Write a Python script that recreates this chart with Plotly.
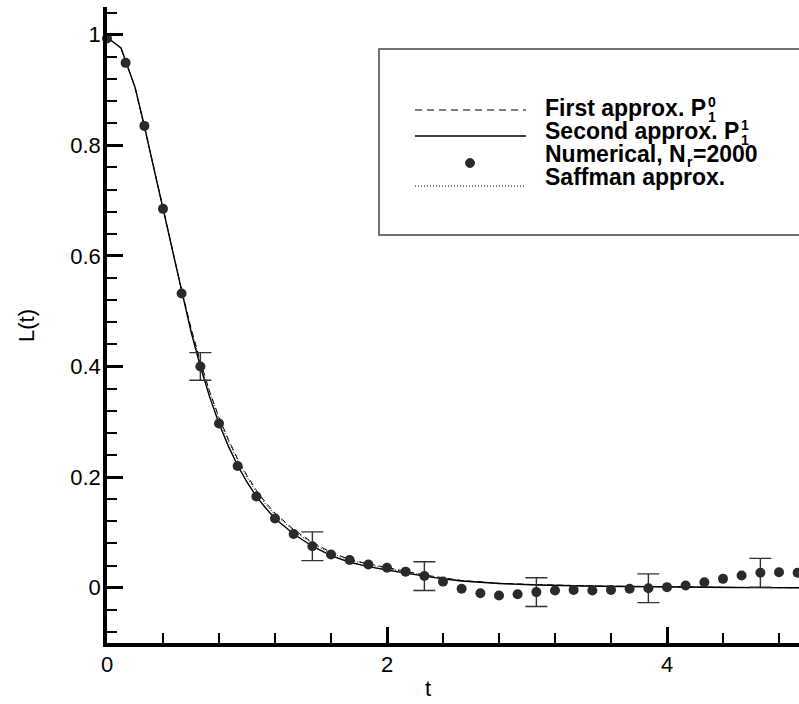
import plotly.graph_objects as go

# ---------------- data ----------------
t_num = [0.000, 0.133, 0.267, 0.400, 0.533, 0.667, 0.800, 0.933, 1.067, 1.200,
         1.333, 1.467, 1.600, 1.733, 1.867, 2.000, 2.133, 2.267, 2.400, 2.533,
         2.667, 2.800, 2.933, 3.067, 3.200, 3.333, 3.467, 3.600, 3.733, 3.867,
         4.000, 4.133, 4.267, 4.400, 4.533, 4.667, 4.800, 4.933]
L_num = [0.993, 0.949, 0.835, 0.685, 0.532, 0.400, 0.297, 0.220, 0.165, 0.125,
         0.097, 0.075, 0.060, 0.050, 0.042, 0.036, 0.029, 0.021, 0.011, -0.002,
         -0.010, -0.014, -0.012, -0.008, -0.005, -0.004, -0.005, -0.004, -0.002, -0.001,
         0.001, 0.004, 0.010, 0.016, 0.022, 0.027, 0.028, 0.027]

t_err = [0.667, 1.467, 2.267, 3.067, 3.867, 4.667]
L_err = [0.400, 0.075, 0.021, -0.008, -0.001, 0.027]
dL_err = [0.025, 0.026, 0.026, 0.026, 0.026, 0.026]

t_curve = [0.0, 0.1, 0.2, 0.267, 0.333, 0.4, 0.467, 0.533, 0.6, 0.667, 0.733, 0.8,
           0.867, 0.933, 1.0, 1.067, 1.133, 1.2, 1.333, 1.467, 1.6, 1.733, 1.867,
           2.0, 2.133, 2.267, 2.4, 2.533, 2.8, 3.067, 3.5, 4.0, 4.5, 5.0]
L_second = [0.995, 0.976, 0.905, 0.835, 0.760, 0.685, 0.607, 0.532, 0.463, 0.400, 0.345, 0.297,
            0.256, 0.221, 0.191, 0.165, 0.144, 0.125, 0.097, 0.075, 0.058, 0.046, 0.038,
            0.032, 0.026, 0.021, 0.016, 0.012, 0.0075, 0.005, 0.0025, 0.001, 0.0003, 0.0]
L_first = [0.995, 0.976, 0.905, 0.835, 0.761, 0.687, 0.611, 0.538, 0.470, 0.409, 0.355, 0.308,
           0.268, 0.233, 0.203, 0.176, 0.154, 0.135, 0.105, 0.082, 0.064, 0.051, 0.043,
           0.036, 0.029, 0.023, 0.018, 0.013, 0.008, 0.0055, 0.003, 0.0012, 0.0004, 0.0]
L_saffman = [0.995, 0.976, 0.905, 0.835, 0.761, 0.686, 0.610, 0.536, 0.468, 0.406, 0.352, 0.305,
             0.265, 0.230, 0.200, 0.173, 0.151, 0.132, 0.103, 0.080, 0.062, 0.050, 0.042,
             0.035, 0.028, 0.022, 0.017, 0.013, 0.008, 0.0053, 0.0028, 0.0011, 0.0003, 0.0]

legend_labels = ["First approx. P", "Second approx. P", "Numerical, N", "Saffman approx."]

# ---------------- figure ----------------
W, H = 799, 704
ML, MR, MT, MB = 107, 0, 7, 61
PW, PH = W - ML - MR, H - MT - MB


def px(x):
    return (x - ML) / PW


def py(y):
    return (H - MB - y) / PH


fig = go.Figure()

fig.add_trace(go.Scatter(x=t_curve, y=L_first, mode="lines",
                         line=dict(color="black", width=1.0, dash="6px,4px"),
                         showlegend=False, cliponaxis=False))
fig.add_trace(go.Scatter(x=t_curve, y=L_saffman, mode="lines",
                         line=dict(color="black", width=1.0, dash="1px,2px"),
                         showlegend=False, cliponaxis=False))
fig.add_trace(go.Scatter(x=t_curve, y=L_second, mode="lines",
                         line=dict(color="black", width=1.4),
                         showlegend=False, cliponaxis=False))
fig.add_trace(go.Scatter(x=t_err, y=L_err, mode="markers",
                         marker=dict(size=10, color="#2a2a2a", opacity=0),
                         error_y=dict(type="data", array=dL_err, visible=True,
                                      color="#333333", thickness=1.4, width=11),
                         showlegend=False, cliponaxis=False))
fig.add_trace(go.Scatter(x=t_num, y=L_num, mode="markers",
                         marker=dict(size=10, color="#2a2a2a"),
                         showlegend=False, cliponaxis=False))

tickfont = dict(family="Liberation Sans, Arial, sans-serif", size=22, color="black")

fig.update_xaxes(range=[0, (W - ML) / 140.0], showgrid=False, zeroline=False,
                 showline=True, linewidth=3.5, linecolor="black", mirror=False,
                 ticks="inside", ticklen=16, tickwidth=3, tickcolor="black",
                 tick0=0, dtick=2, tickfont=tickfont, ticklabelstandoff=-1,
                 minor=dict(ticks="inside", ticklen=10, tickwidth=1.5,
                            tickcolor="black", dtick=0.4, showgrid=False))
fig.update_yaxes(range=[-0.1, 1.05], showgrid=False, zeroline=False,
                 showline=True, linewidth=3.5, linecolor="black", mirror=False,
                 ticks="inside", ticklen=16, tickwidth=3, tickcolor="black",
                 tick0=0, dtick=0.2, tickfont=tickfont, ticklabelstandoff=-2,
                 tickformat="~g",
                 minor=dict(ticks="inside", ticklen=10, tickwidth=1.5,
                            tickcolor="black", dtick=0.04, showgrid=False))

shapes = []
annotations = []

# axis titles
annotations.append(dict(text="L(t)", x=px(27), y=py(326), xref="paper", yref="paper",
                        showarrow=False, textangle=-90, xanchor="center", yanchor="middle",
                        font=dict(family="Liberation Sans, Arial, sans-serif", size=22, color="black")))
annotations.append(dict(text="t", x=px(428), y=py(688), xref="paper", yref="paper",
                        showarrow=False, xanchor="center", yanchor="middle",
                        font=dict(family="Liberation Sans, Arial, sans-serif", size=22, color="black")))

# legend box
shapes.append(dict(type="rect", xref="paper", yref="paper",
                   x0=px(379), x1=px(815), y0=py(235), y1=py(49),
                   line=dict(color="#444444", width=1.5), fillcolor="white", layer="below"))

sym_x0, sym_x1 = px(415), px(526)
shapes.append(dict(type="line", xref="paper", yref="paper", x0=sym_x0, x1=sym_x1,
                   y0=py(110), y1=py(110), line=dict(color="black", width=1.0, dash="7px,5px")))
shapes.append(dict(type="line", xref="paper", yref="paper", x0=sym_x0, x1=sym_x1,
                   y0=py(136), y1=py(136), line=dict(color="black", width=1.4)))
shapes.append(dict(type="circle", xref="paper", yref="paper",
                   x0=px(470 - 4.5), x1=px(470 + 4.5), y0=py(163 + 4.5), y1=py(163 - 4.5),
                   line=dict(color="#2a2a2a", width=1), fillcolor="#2a2a2a"))
shapes.append(dict(type="line", xref="paper", yref="paper", x0=sym_x0, x1=sym_x1,
                   y0=py(186), y1=py(186), line=dict(color="black", width=1.0, dash="1px,2px")))

lfont = dict(family="Liberation Sans, Arial, sans-serif", size=23, color="black")
sfont = dict(family="Liberation Sans, Arial, sans-serif", size=14, color="black")
tx = 545.7
row_y = [108, 131, 154, 177]


def add_text(text, x, y, font):
    annotations.append(dict(text=text, x=px(x), y=py(y), xref="paper", yref="paper",
                            showarrow=False, xanchor="left", yanchor="middle", font=font,
                            borderpad=0))


add_text("<b>" + legend_labels[0] + "</b>", tx - 2, row_y[0], lfont)
add_text("<b>0</b>", 707, row_y[0] - 6, sfont)
add_text("<b>1</b>", 707, row_y[0] + 9, sfont)

add_text("<b>" + legend_labels[1] + "</b>", tx - 2, row_y[1], lfont)
add_text("<b>1</b>", 740, row_y[1] - 6, sfont)
add_text("<b>1</b>", 740, row_y[1] + 9, sfont)

add_text("<b>" + legend_labels[2] + "</b>", tx - 2, row_y[2], lfont)
add_text("<b>r</b>", 686, row_y[2] + 8, sfont)
add_text("<b>=2000</b>", 692, row_y[2], lfont)

add_text("<b>" + legend_labels[3] + "</b>", tx - 2, row_y[3], lfont)

fig.update_layout(width=W, height=H, margin=dict(l=ML, r=MR, t=MT, b=MB),
                  plot_bgcolor="white", paper_bgcolor="white",
                  shapes=shapes, annotations=annotations, showlegend=False)

fig.write_html("out.html", config={"displayModeBar": False},
               post_script="document.body.style.margin='0';document.body.style.padding='0';")
